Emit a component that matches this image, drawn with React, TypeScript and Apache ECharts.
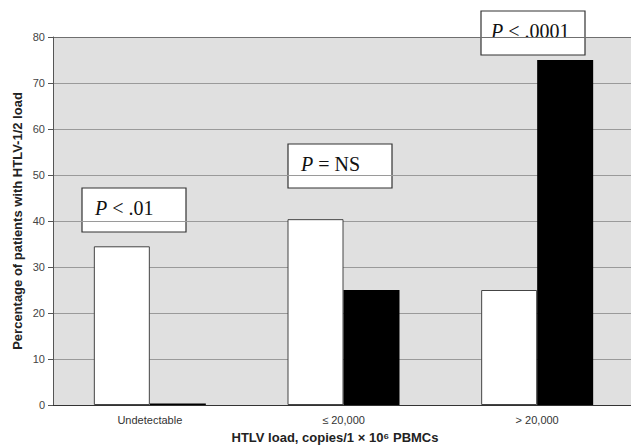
import React, { useEffect, useRef } from "react";
import * as echarts from "echarts";

const categories = ["Undetectable", "≤ 20,000", "> 20,000"];
const whiteValues = [34.5, 40.4, 25];
const blackValues = [0.3, 25, 75];
const yTicks = { min: 0, max: 80, interval: 10 };
const annotations = ["{i|P} < .01", "{i|P} = NS", "{i|P} < .0001"];
const yTitle = "Percentage of patients with HTLV-1/2 load";
const xTitle = "HTLV load, copies/1 × 10⁶ PBMCs";

const boxPos = [
  { x: 82, y: 188 },
  { x: 288, y: 144 },
  { x: 481, y: 11 },
];

export default function App() {
  const ref = useRef<HTMLDivElement>(null);
  useEffect(() => {
    if (!ref.current) return;
    const chart = echarts.init(ref.current, null, { renderer: "svg" });
    const sans = "'Liberation Sans', Arial, sans-serif";
    const serif = "'Liberation Serif', 'Times New Roman', serif";
    const boxes = annotations.map((t, i) => ({
      type: "group",
      x: boxPos[i].x,
      y: boxPos[i].y,
      children: [
        {
          type: "rect",
          shape: { x: 0, y: 0, width: 104, height: 44 },
          style: { fill: "#fff", stroke: "#333", lineWidth: 1.2 },
        },
        {
          type: "text",
          x: i === 2 ? 10 : 13,
          y: 20,
          style: {
            text: t,
            fontFamily: serif,
            fontSize: 20,
            fill: "#111",
            verticalAlign: "middle",
            align: "left",
            rich: {
              i: { fontStyle: "italic", fontFamily: serif, fontSize: 20, fill: "#111" },
            },
          },
        },
      ],
    }));
    const splitColors = ["#9a9a9a", "#9a9a9a", "#9a9a9a", "#9a9a9a", "#9a9a9a", "#9a9a9a", "#9a9a9a", "#9a9a9a", "#6f6f6f"];
    chart.setOption({
      animation: false,
      backgroundColor: "#fff",
      grid: {
        left: 53,
        top: 37,
        width: 581,
        height: 368,
        outerBoundsMode: "none",
        show: true,
        backgroundColor: "#e0e0e0",
        borderWidth: 0,
      },
      xAxis: {
        type: "category",
        data: categories,
        axisLine: { lineStyle: { color: "#333", width: 1 } },
        axisTick: { show: false },
        axisLabel: { color: "#333", fontSize: 11, fontFamily: sans, margin: 9 },
      },
      yAxis: {
        type: "value",
        min: yTicks.min,
        max: yTicks.max,
        interval: yTicks.interval,
        axisLine: { show: true, lineStyle: { color: "#555" } },
        axisTick: { show: true, length: 5, lineStyle: { color: "#555" } },
        axisLabel: { color: "#444", fontSize: 11, fontFamily: sans, margin: 8 },
        splitLine: { lineStyle: { color: splitColors, width: 1 } },
      },
      series: [
        {
          type: "bar",
          data: whiteValues,
          barWidth: 56,
          barGap: "0%",
          itemStyle: { color: "#fff", borderColor: "#444", borderWidth: 1 },
        },
        {
          type: "bar",
          data: blackValues,
          barWidth: 56,
          barGap: "0%",
          itemStyle: { color: "#000" },
        },
      ],
      graphic: [
        ...boxes,
        {
          type: "text",
          x: 17,
          y: 221,
          rotation: Math.PI / 2,
          style: {
            text: yTitle,
            fontFamily: sans,
            fontSize: 13,
            fontWeight: "bold",
            fill: "#222",
            align: "center",
            verticalAlign: "middle",
          },
        },
        {
          type: "text",
          x: 335,
          y: 437,
          style: {
            text: xTitle,
            fontFamily: sans,
            fontSize: 13,
            fontWeight: "bold",
            fill: "#222",
            align: "center",
            verticalAlign: "middle",
          },
        },
      ],
    });
    return () => chart.dispose();
  }, []);
  return (
    <div
      ref={ref}
      style={{ position: "fixed", left: 0, top: 0, width: 631, height: 447 }}
    />
  );
}
